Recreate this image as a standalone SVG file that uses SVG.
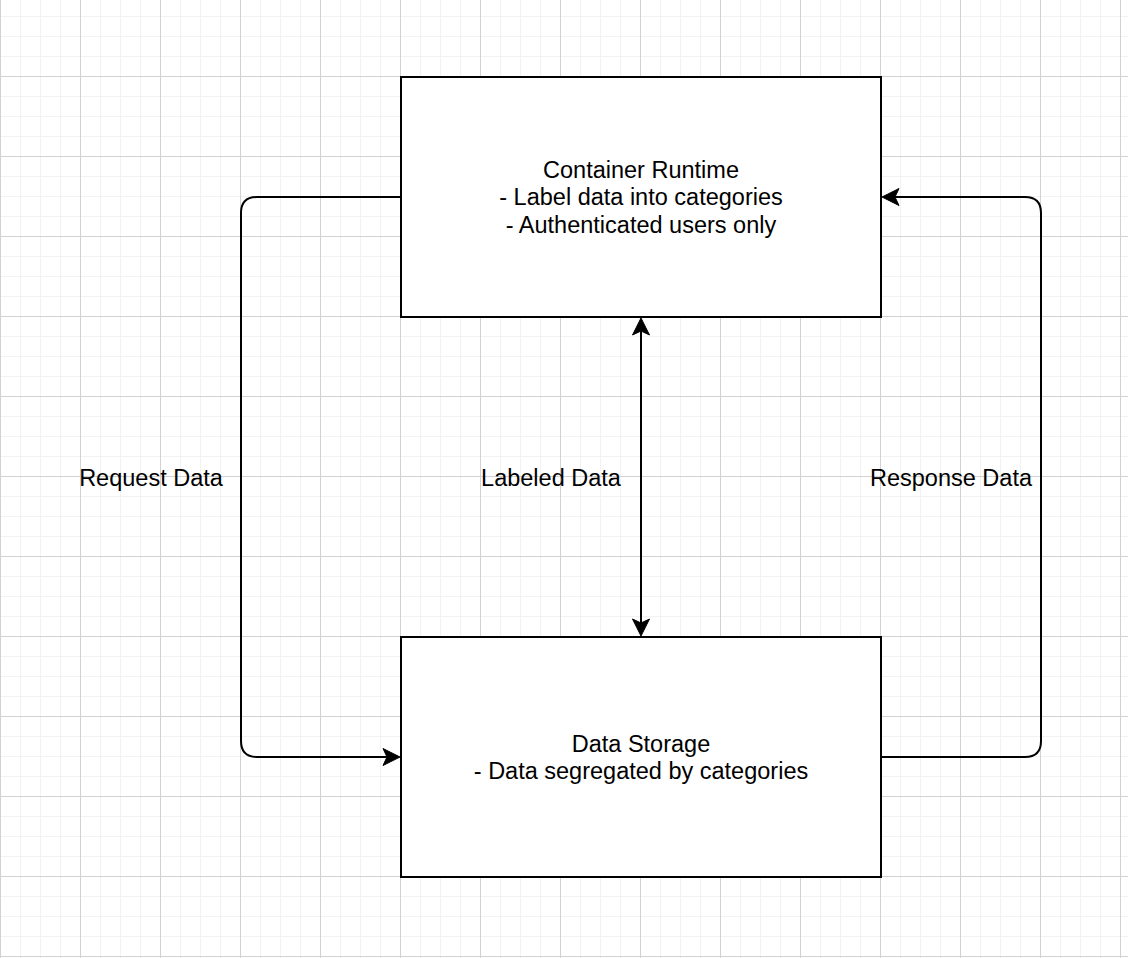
<svg xmlns="http://www.w3.org/2000/svg" width="1128" height="958" viewBox="0 0 1128 958">
  <style>
    .box { fill: #ffffff; stroke: #000000; stroke-width: 2; }
    .edge { fill: none; stroke: #000000; stroke-width: 2; }
    .lbl { font-family: "Liberation Sans", Arial, Helvetica, sans-serif; font-size: 23.5px; fill: #000000; text-anchor: middle; }
    .minor { stroke: #f2f2f2; stroke-width: 1; }
    .major { stroke: #d2d2d2; stroke-width: 1; }
  </style>
  <defs>
    <pattern id="grid" patternUnits="userSpaceOnUse" x="0" y="-4" width="80" height="80">
      <path class="minor" d="M20.5,0 V80 M40.5,0 V80 M60.5,0 V80 M0,20.5 H80 M0,40.5 H80 M0,60.5 H80"/>
      <path class="major" d="M0.5,0 V80 M0,0.5 H80"/>
    </pattern>
    <marker id="arrow" markerUnits="userSpaceOnUse" markerWidth="18" markerHeight="18" viewBox="0 0 18 18" refX="4" refY="9" orient="auto-start-reverse" overflow="visible">
      <path d="M0,0.5 L17,9 L0,17.5 L4,9 Z" fill="#000000" stroke="#000000" stroke-width="1" stroke-linejoin="miter"/>
    </marker>
  </defs>
  <rect x="0" y="0" width="1128" height="958" fill="#ffffff"/>
  <rect x="0" y="0" width="1128" height="958" fill="url(#grid)"/>

  <g id="connectors">
    <path id="edge-request" class="edge" d="M401,197 H257 Q241,197 241,213 V741 Q241,757 257,757 H387" marker-end="url(#arrow)"/>
    <path id="edge-response" class="edge" d="M881,757 H1025 Q1041,757 1041,741 V213 Q1041,197 1025,197 H895" marker-end="url(#arrow)"/>
    <path id="edge-labeled" class="edge" d="M641,331 V623" marker-start="url(#arrow)" marker-end="url(#arrow)"/>
  </g>

  <g id="node-container-runtime">
    <rect class="box" x="401" y="77" width="480" height="240"/>
    <text class="lbl" x="641" y="177.5">Container Runtime</text>
    <text class="lbl" x="641" y="205">- Label data into categories</text>
    <text class="lbl" x="641" y="232.5">- Authenticated users only</text>
  </g>

  <g id="node-data-storage">
    <rect class="box" x="401" y="637" width="480" height="240"/>
    <text class="lbl" x="641" y="751.5">Data Storage</text>
    <text class="lbl" x="641" y="779">- Data segregated by categories</text>
  </g>

  <g id="edge-labels">
    <text class="lbl" x="151" y="485.5">Request Data</text>
    <text class="lbl" x="551" y="485.5">Labeled Data</text>
    <text class="lbl" x="951" y="485.5">Response Data</text>
  </g>
</svg>
